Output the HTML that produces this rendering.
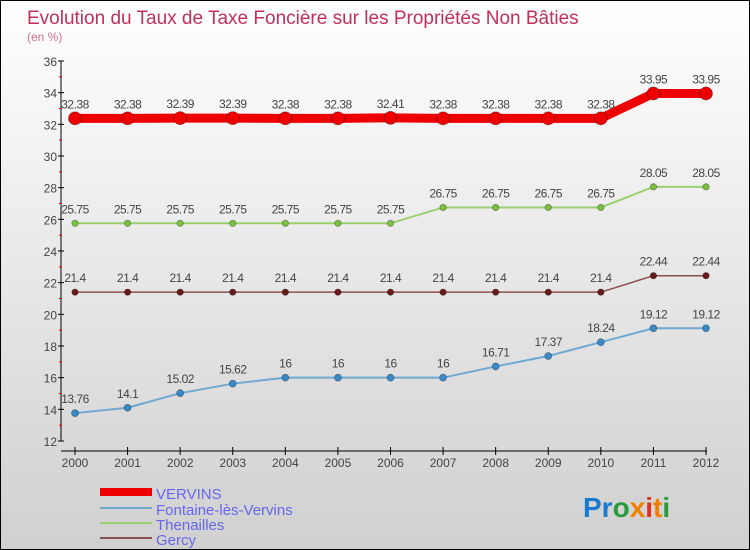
<!DOCTYPE html>
<html><head><meta charset="utf-8"><style>
body{margin:0}
#c{width:748px;height:548px;border:1px solid #000;background:linear-gradient(#ffffff,#d0d0d0);position:relative;font-family:"Liberation Sans",sans-serif;overflow:hidden}
</style></head><body>
<div id="c">
<svg id="s" width="748" height="548" xmlns="http://www.w3.org/2000/svg">
<text x="26" y="23" font-size="19" fill="#c0305a">Evolution du Taux de Taxe Foncière sur les Propriétés Non Bâties</text>
<text x="26" y="40" font-size="12" fill="#d07090">(en %)</text>
<g id="axes"></g><g id="series"></g>
<g>
<rect x="99" y="487" width="52" height="8" fill="#ee0000"/>
<line x1="99" y1="507" x2="151" y2="507" stroke="#6fa8d0" stroke-width="2"/>
<line x1="99" y1="522" x2="151" y2="522" stroke="#99d070" stroke-width="2"/>
<line x1="99" y1="537" x2="151" y2="537" stroke="#8a5050" stroke-width="2"/>
<text x="155" y="498" font-size="15" fill="#6666ee">VERVINS</text>
<text x="155" y="514" font-size="15" fill="#6666ee">Fontaine-lès-Vervins</text>
<text x="155" y="529" font-size="15" fill="#6666ee">Thenailles</text>
<text x="155" y="544" font-size="15" fill="#6666ee">Gercy</text>
</g>
<text x="582" y="516" font-size="28" font-weight="bold"><tspan fill="#1a7ad0">Pr</tspan><tspan fill="#2a9a40">o</tspan><tspan fill="#f08000">x</tspan><tspan fill="#e03020">i</tspan><tspan fill="#f08000">t</tspan><tspan fill="#2a9a40">i</tspan></text>
</svg>
</div>
<script>
const years=[2000,2001,2002,2003,2004,2005,2006,2007,2008,2009,2010,2011,2012];
const yTicks=[12,14,16,18,20,22,24,26,28,30,32,34,36];
const vervins=[32.38,32.38,32.39,32.39,32.38,32.38,32.41,32.38,32.38,32.38,32.38,33.95,33.95];
const fontaine=[13.76,14.1,15.02,15.62,16,16,16,16,16.71,17.37,18.24,19.12,19.12];
const thenailles=[25.75,25.75,25.75,25.75,25.75,25.75,25.75,26.75,26.75,26.75,26.75,28.05,28.05];
const gercy=[21.4,21.4,21.4,21.4,21.4,21.4,21.4,21.4,21.4,21.4,21.4,22.44,22.44];
const NS="http://www.w3.org/2000/svg";
function X(i){return 74+i*(705-74)/(years.length-1);}
function Y(v){return 440-(v-12)*(380/24);}
function mk(t,a,p){const e=document.createElementNS(NS,t);for(const k in a)e.setAttribute(k,a[k]);p.appendChild(e);return e;}
const ax=document.getElementById('axes');
let e=mk('line',{x1:60,y1:60,x2:60,y2:440,stroke:'#000','stroke-width':1},ax);


e=mk('line',{x1:60,y1:450,x2:706,y2:450,stroke:'#000','stroke-width':1},ax);


const yMax=yTicks[yTicks.length-1];
yTicks.forEach(v=>{
 mk('line',{x1:57,y1:Y(v),x2:63,y2:Y(v),stroke:'#000'},ax);
 if(v<yMax) mk('line',{x1:58,y1:Y(v+1),x2:61,y2:Y(v+1),stroke:'#e00'},ax);
 const t=mk('text',{x:56,y:Y(v)+5,'font-size':12,fill:'#444','text-anchor':'end'},ax);t.textContent=v;
 
 
});
years.forEach((y,i)=>{
 mk('line',{x1:X(i),y1:446,x2:X(i),y2:454,stroke:'#000'},ax);
 const t=mk('text',{x:X(i),y:466,'font-size':12,fill:'#444','text-anchor':'middle'},ax);t.textContent=y;
 
 
});
const sg=document.getElementById('series');
function series(vals,name,col,w,r,dot){
 const g=mk('g',{},sg);
 
 
 mk('polyline',{points:vals.map((v,i)=>X(i)+','+Y(v)).join(' '),fill:'none',stroke:col,'stroke-width':w},g);
 vals.forEach((v,i)=>{
  const c=mk('circle',{cx:X(i),cy:Y(v),r:r,fill:dot,stroke:'rgba(0,0,0,0.35)','stroke-width':0.8},g);
  
  
  const t=mk('text',{x:X(i),y:Y(v)-10,'font-size':12,fill:'#444','text-anchor':'middle','letter-spacing':'-0.5'},g);
  t.textContent=v;
  
  
 });
}
series(fontaine,'fontaine','#6fa8d0',2,3.5,'#3a8ac8');
series(gercy,'gercy','#8a5050',1.5,3.2,'#6a1a1a');
series(thenailles,'thenailles','#99d070',2,3.2,'#7cc040');
series(vervins,'vervins','#ee0000',9,6.5,'#ee0000');
</script>
</body></html>
